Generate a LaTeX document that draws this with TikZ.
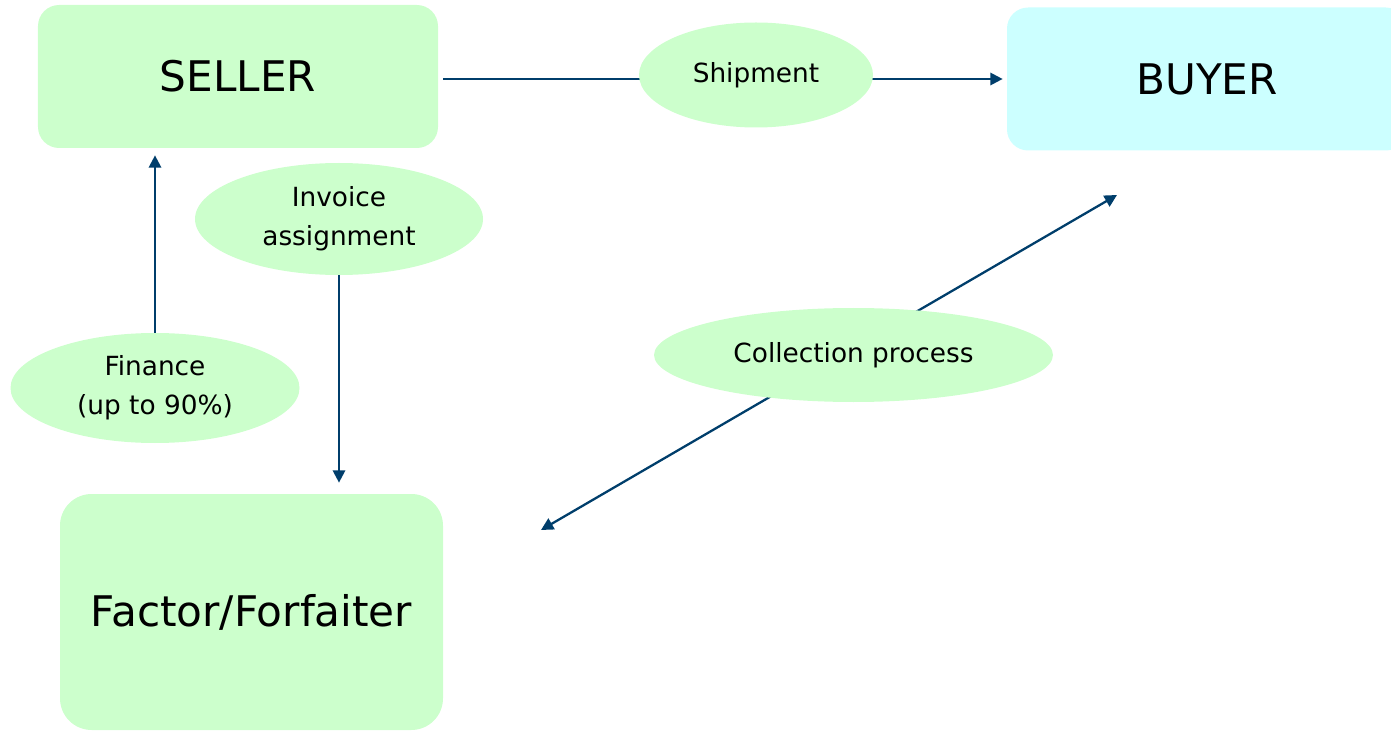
\documentclass[tikz,border=0pt]{standalone}
\usepackage{fontspec}
\setmainfont{DejaVu Sans}
\usetikzlibrary{positioning,shapes.geometric,arrows.meta,backgrounds}

\definecolor{boxgreen}{HTML}{CCFFCC}
\definecolor{boxcyan}{HTML}{CCFFFF}
\definecolor{arrowblue}{HTML}{003E6B}

\begin{document}
\begin{tikzpicture}[
  every node/.style={font=\fontsize{15}{22}\selectfont},
  party/.style={rectangle, rounded corners=12pt, fill=boxgreen, align=center,
                font=\fontsize{24}{28}\selectfont},
  bubble/.style={ellipse, fill=boxgreen, align=center, inner sep=0pt},
  arr/.style={-{Triangle[length=7pt,width=7pt]}, line width=1.3pt, draw=arrowblue},
  darr/.style={{Triangle[length=7pt,width=7pt]}-{Triangle[length=7pt,width=7pt]},
               line width=1.3pt, draw=arrowblue}
]
\useasboundingbox (0,0) rectangle (27.82,-14.64);

\node[party, minimum width=8cm, minimum height=2.86cm]     (seller) at (4.76,-1.53)  {SELLER};
\node[party, fill=boxcyan, minimum width=8cm, minimum height=2.86cm] (buyer) at (24.14,-1.58) {BUYER};
\node[party, rounded corners=18pt, minimum width=7.66cm, minimum height=4.72cm] (factor) at (5.03,-12.24) {Factor/Forfaiter};

\node[bubble, minimum width=4.68cm, minimum height=2.1cm]  (ship)    at (15.12,-1.5) {Shipment};
\node[bubble, minimum width=5.76cm, minimum height=2.24cm] (invoice) at (6.78,-4.38) {Invoice\\assignment};
\node[bubble, minimum width=5.78cm, minimum height=2.2cm]  (finance) at (3.1,-7.76)  {Finance\\(up to 90\%)};
\node[bubble, minimum width=7.98cm, minimum height=1.88cm] (collect) at (17.07,-7.1) {Collection process};

\coordinate (collectA) at (10.82,-10.6);
\coordinate (collectB) at (22.34,-3.9);

\begin{pgfonlayer}{background}
\draw[arr, shorten <=0.1cm, shorten >=0.08cm] (seller.east |- buyer.west) -- (buyer.west);
\draw[darr] (collectA) -- (collectB);
\end{pgfonlayer}
\draw[arr, shorten >=0.14cm] (finance.north) -- (finance.north |- seller.south);
\draw[arr, shorten >=0.22cm] (invoice.south) -- (invoice.south |- factor.north);

\end{tikzpicture}
\end{document}
